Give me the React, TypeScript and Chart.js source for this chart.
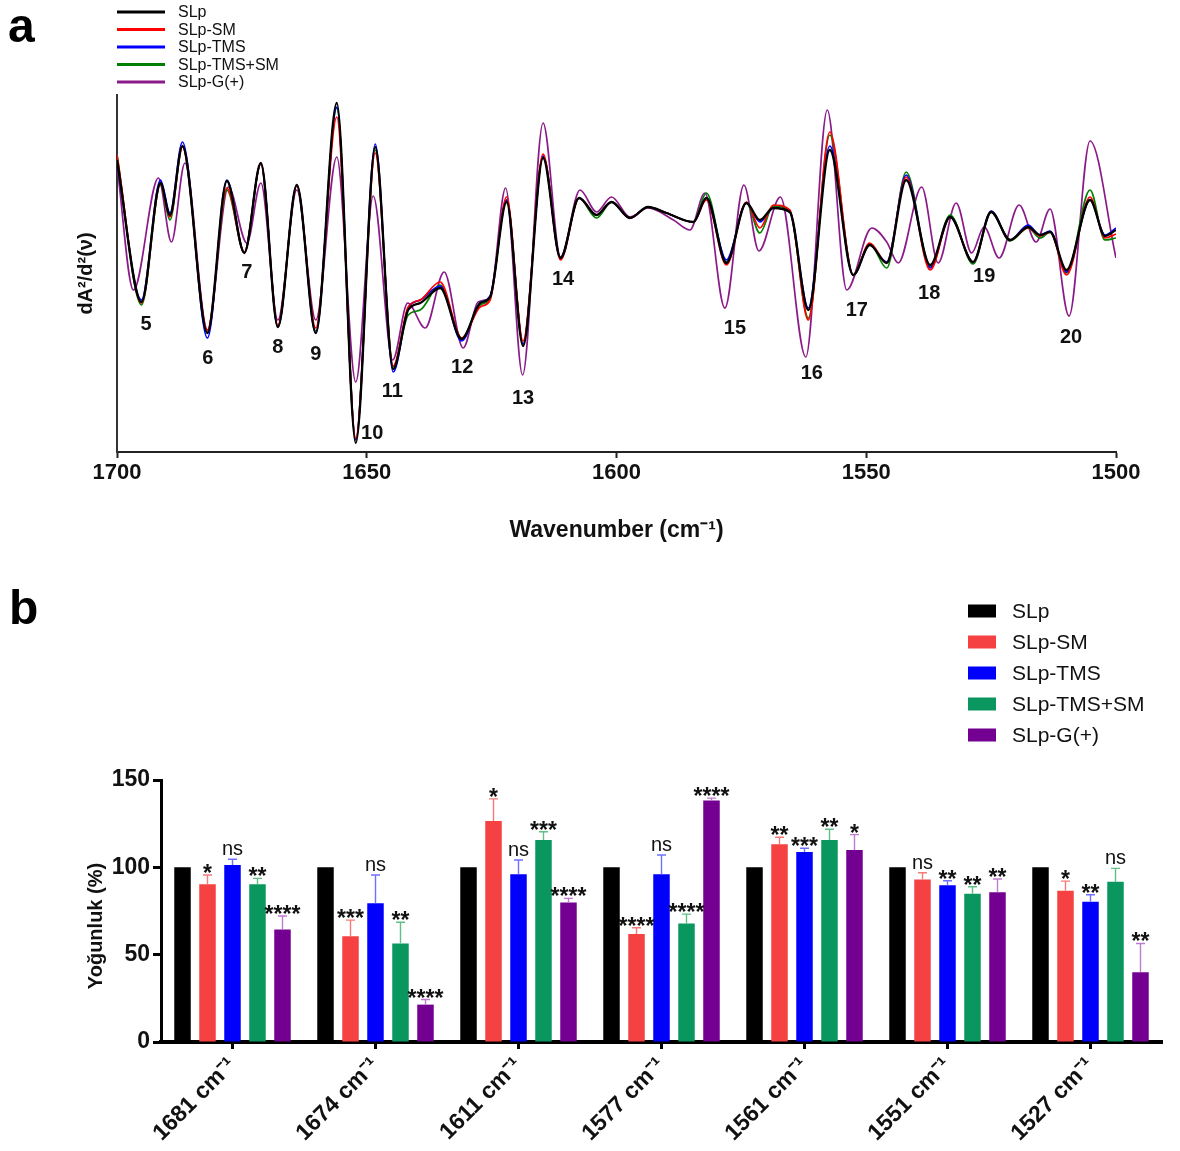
import React, { useEffect, useRef } from 'react';
import { Chart, registerables } from 'chart.js';

Chart.register(...registerables);

const FONT = "'Liberation Sans', Arial, Helvetica, sans-serif";

// ---------- Panel a: second-derivative spectra ----------
const seriesNames = ['SLp', 'SLp-SM', 'SLp-TMS', 'SLp-TMS+SM', 'SLp-G(+)'];
const lineColors = ['#000000', '#ff0000', '#0000ff', '#008000', '#8b1a89'];

const wavenumbers = [
  1700.0, 1695.1, 1691.3, 1689.4, 1686.9, 1681.9, 1678.0, 1674.5, 1671.2, 1667.8,
  1664.0, 1660.2, 1656.0, 1652.2, 1648.3, 1644.7, 1641.7, 1639.3, 1635.3, 1631.0,
  1627.3, 1625.3, 1622.0, 1618.7, 1614.7, 1611.2, 1607.5, 1604.0, 1601.0, 1597.3,
  1593.7, 1590.0, 1584.6, 1582.0, 1578.0, 1574.0, 1571.3, 1568.6, 1565.3, 1561.6,
  1557.3, 1552.6, 1549.3, 1545.9, 1542.0, 1537.2, 1533.2, 1528.6, 1525.0, 1521.2,
  1517.6, 1515.2, 1513.2, 1509.9, 1505.2, 1502.2, 1500.0,
];
const specSLp = [
  90, -52, 67, 35, 104, -83, 69, -3, 87, -77,
  65, -83, 147, -193, 103, -119, -60, -53, -38, -89,
  -53, -47, 48, -96, 92, -8, 52, 35, 48, 32,
  43, 37, 28, 52, -13, 47, 30, 42, 38, -60,
  100, -25, 5, -13, 70, -15, 33, -12, 38, 10,
  23, 15, 18, -20, 50, 14, 20,
];
const specSM = [
  95, -53, 66, 33, 103, -80, 62, -2, 86, -75,
  64, -78, 133, -188, 97, -116, -57, -50, -32, -88,
  -57, -50, 53, -91, 96, -10, 52, 35, 48, 32,
  43, 37, 28, 50, -15, 48, 22, 45, 40, -70,
  118, -25, 7, -13, 73, -20, 33, -12, 38, 10,
  22, 14, 18, -25, 53, 12, 16,
];
const specTMS = [
  88, -50, 70, 37, 108, -88, 70, -3, 87, -77,
  65, -83, 143, -190, 106, -122, -58, -50, -36, -91,
  -53, -46, 50, -94, 94, -8, 52, 35, 48, 32,
  43, 37, 28, 52, -10, 47, 28, 42, 38, -58,
  104, -25, 5, -12, 75, -18, 33, -12, 39, 10,
  25, 15, 19, -22, 50, 15, 22,
];
const specTMSSM = [
  95, -55, 65, 30, 103, -82, 60, -2, 86, -76,
  64, -81, 142, -190, 100, -117, -65, -60, -35, -88,
  -55, -48, 50, -94, 94, -8, 52, 32, 48, 32,
  43, 37, 28, 57, -12, 47, 17, 44, 39, -68,
  115, -25, 6, -18, 78, -17, 35, -14, 38, 9,
  22, 12, 18, -23, 60, 10, 12,
];
const wavenumbersG = [
  1700.0, 1696.7, 1691.7, 1689.1, 1686.4, 1681.9, 1677.7, 1674.0, 1671.2, 1667.8,
  1664.0, 1660.2, 1656.0, 1652.2, 1648.7, 1644.8, 1641.8, 1638.3, 1634.5, 1630.7,
  1627.7, 1625.3, 1622.2, 1618.8, 1614.7, 1611.2, 1607.3, 1604.0, 1601.0, 1597.3,
  1593.7, 1588.6, 1585.3, 1582.3, 1578.3, 1574.5, 1571.5, 1567.2, 1562.1, 1557.8,
  1553.9, 1548.9, 1545.9, 1543.6, 1538.9, 1535.6, 1532.0, 1528.9, 1526.4, 1523.4,
  1519.4, 1516.0, 1513.2, 1509.4, 1505.2, 1500.0,
];
const specG = [
  85, -40, 72, 8, 87, -80, 63, 7, 67, -70,
  60, -70, 93, -132, 54, -110, -53, -78, -22, -98,
  -52, -47, 62, -125, 127, -7, 60, 38, 53, 33,
  42, 30, 20, 57, -58, 65, -1, 53, -107, 140,
  -40, 22, 8, -13, 63, -13, 47, -3, 23, -8,
  45, 8, 41, -66, 109, -8,
];

const bandNumbers = ['5', '6', '7', '8', '9', '10', '11', '12', '13', '14', '15', '16', '17', '18', '19', '20'];
const bandX = [1694.2, 1681.8, 1674.0, 1667.8, 1660.2, 1648.9, 1644.9, 1630.9, 1618.7, 1610.7, 1576.3, 1560.9, 1551.9, 1537.4, 1526.4, 1509.0];
const bandY = [-74, -108, -22, -97, -104, -183, -141, -117, -148, -29, -78, -123, -60, -43, -26, -87];

const xTicksA = [1700, 1650, 1600, 1550, 1500];

// ---------- Panel b: intensity bars ----------
const categories = ['1681 cm⁻¹', '1674 cm⁻¹', '1611 cm⁻¹', '1577 cm⁻¹', '1561 cm⁻¹', '1551 cm⁻¹', '1527 cm⁻¹'];
const barColors = ['#000000', '#f54141', '#0000fb', '#0a965f', '#730091'];
const errColors = ['#000000', '#f77a7a', '#7070ff', '#5fbf85', '#c07ad0'];

const barSLp = [100, 100, 100, 100, 100, 100, 100];
const barSM = [90.3, 60.6, 126.5, 61.8, 113.2, 93.1, 86.6];
const barTMS = [101.3, 79.4, 96.0, 96.0, 108.8, 89.7, 80.3];
const barTMSSM = [90.3, 56.4, 115.7, 67.9, 115.7, 84.9, 91.7];
const barG = [64.4, 21.4, 79.9, 138.2, 109.9, 85.8, 40.0];

const sdSLp = [0, 0, 0, 0, 0, 0, 0];
const sdSM = [5.3, 9.2, 12.7, 3.6, 4.0, 3.8, 5.5];
const sdTMS = [3.3, 16.2, 8.2, 11.1, 2.1, 2.6, 4.0];
const sdTMSSM = [3.4, 12.2, 4.7, 5.3, 6.1, 4.0, 7.7];
const sdG = [7.7, 2.9, 2.3, 1.4, 8.8, 7.5, 16.4];

const sigSLp = ['', '', '', '', '', '', ''];
const sigSM = ['*', '***', '*', '****', '**', 'ns', '*'];
const sigTMS = ['ns', 'ns', 'ns', 'ns', '***', '**', '**'];
const sigTMSSM = ['**', '**', '***', '****', '**', '**', 'ns'];
const sigG = ['****', '****', '****', '****', '*', '**', '**'];

const yTicksB = [0, 50, 100, 150];

export default function App() {
  const refA = useRef<HTMLCanvasElement>(null);
  const refB = useRef<HTMLCanvasElement>(null);

  useEffect(() => {
    const specSeries = [specSLp, specSM, specTMS, specTMSSM];
    const lineDatasets: any[] = specSeries.map((vals, si) => ({
      label: seriesNames[si],
      data: wavenumbers.map((w, i) => ({ x: w, y: vals[i] })),
      borderColor: lineColors[si],
      borderWidth: si === 0 ? 2.3 : 1.7,
      pointRadius: 0,
      cubicInterpolationMode: 'monotone',
      fill: false,
    }));
    lineDatasets.push({
      label: seriesNames[4],
      data: wavenumbersG.map((w, i) => ({ x: w, y: specG[i] })),
      borderColor: lineColors[4],
      borderWidth: 1.7,
      pointRadius: 0,
      cubicInterpolationMode: 'monotone',
      fill: false,
    });

    const panelAPlugin = {
      id: 'panelA',
      afterDatasetsDraw(chart: any) {
        const { ctx } = chart;
        const xs = chart.scales.x;
        const ys = chart.scales.y;
        ctx.save();
        ctx.fillStyle = '#111';
        ctx.font = `bold 20px ${FONT}`;
        ctx.textAlign = 'center';
        ctx.textBaseline = 'middle';
        bandNumbers.forEach((t, i) => {
          ctx.fillText(t, xs.getPixelForValue(bandX[i]), ys.getPixelForValue(bandY[i]));
        });
        // legend
        ctx.font = `16px ${FONT}`;
        ctx.textAlign = 'left';
        chart.data.datasets.forEach((ds: any, i: number) => {
          const yy = 12 + i * 17.5;
          ctx.strokeStyle = ds.borderColor;
          ctx.lineWidth = 3;
          ctx.beginPath();
          ctx.moveTo(117, yy);
          ctx.lineTo(165, yy);
          ctx.stroke();
          ctx.fillStyle = '#111';
          ctx.fillText(ds.label, 178, yy + 1);
        });
        ctx.font = `bold 48px ${FONT}`;
        ctx.textBaseline = 'alphabetic';
        ctx.fillStyle = '#000';
        ctx.fillText('a', 8, 42);
        ctx.restore();
      },
    };

    const chartA = new Chart(refA.current as HTMLCanvasElement, {
      type: 'line',
      data: { datasets: lineDatasets },
      options: {
        responsive: false,
        devicePixelRatio: 1,
        animation: false,
        events: [],
        layout: { padding: { left: 0, top: 95, right: 64, bottom: 0 } },
        plugins: { legend: { display: false }, tooltip: { enabled: false } },
        scales: {
          x: {
            type: 'linear',
            min: 1500,
            max: 1700,
            reverse: true,
            afterFit: (s: any) => { s.height = 108; },
            afterBuildTicks: (s: any) => { s.ticks = xTicksA.map((v) => ({ value: v })); },
            ticks: {
              font: { family: FONT, size: 22, weight: 'bold' },
              color: '#111',
              padding: 2,
              maxRotation: 0,
              callback: (v: any) => String(v),
            },
            grid: {
              display: true,
              drawOnChartArea: false,
              drawTicks: true,
              tickLength: 6,
              tickWidth: 2,
              color: '#222',
            },
            border: { display: true, color: '#222', width: 2 },
            title: {
              display: true,
              text: 'Wavenumber (cm⁻¹)',
              font: { family: FONT, size: 23, weight: 'bold' },
              color: '#111',
              padding: { top: 0, bottom: 16 },
            },
          },
          y: {
            type: 'linear',
            min: -202,
            max: 155,
            afterFit: (s: any) => { s.width = 117; },
            ticks: { display: false },
            grid: { display: false },
            border: { display: true, color: '#333', width: 2 },
            title: {
              display: true,
              text: 'dA²/d²(ν)',
              font: { family: FONT, size: 20, weight: 'bold' },
              color: '#111',
              padding: { top: 74, bottom: 0 },
            },
          },
        },
      } as any,
      plugins: [panelAPlugin],
    });

    // ---------- Panel b ----------
    const barSeries = [barSLp, barSM, barTMS, barTMSSM, barG];
    const sdSeries = [sdSLp, sdSM, sdTMS, sdTMSSM, sdG];
    const sigSeries = [sigSLp, sigSM, sigTMS, sigTMSSM, sigG];

    const panelBPlugin = {
      id: 'panelB',
      afterDatasetsDraw(chart: any) {
        const { ctx } = chart;
        const ys = chart.scales.y;
        ctx.save();
        chart.data.datasets.forEach((ds: any, di: number) => {
          const meta = chart.getDatasetMeta(di);
          meta.data.forEach((bar: any, i: number) => {
            const val = barSeries[di][i];
            const sd = sdSeries[di][i];
            const top = ys.getPixelForValue(val + sd);
            const x = bar.x;
            if (sd > 0) {
              ctx.strokeStyle = errColors[di];
              ctx.lineWidth = 1.4;
              ctx.beginPath();
              ctx.moveTo(x, ys.getPixelForValue(val));
              ctx.lineTo(x, top);
              ctx.moveTo(x - 4.5, top);
              ctx.lineTo(x + 4.5, top);
              ctx.stroke();
            }
            const sig = sigSeries[di][i];
            if (sig) {
              ctx.fillStyle = '#111';
              ctx.textAlign = 'center';
              ctx.textBaseline = 'alphabetic';
              if (sig === 'ns') {
                ctx.font = `20px ${FONT}`;
                ctx.fillText(sig, x, top - 4);
              } else {
                ctx.font = `bold 23px ${FONT}`;
                ctx.fillText(sig, x, top + 6);
              }
            }
          });
        });
        ctx.restore();
      },
      afterDraw(chart: any) {
        const { ctx } = chart;
        ctx.save();
        // legend
        ctx.font = `21px ${FONT}`;
        ctx.textAlign = 'left';
        ctx.textBaseline = 'middle';
        chart.data.datasets.forEach((ds: any, i: number) => {
          const yy = 51 + i * 31;
          ctx.fillStyle = ds.backgroundColor;
          ctx.fillRect(968, yy - 6.5, 28, 13);
          ctx.fillStyle = '#111';
          ctx.fillText(ds.label, 1012, yy + 1);
        });
        // y title
        ctx.font = `bold 20px ${FONT}`;
        ctx.textAlign = 'center';
        ctx.translate(96, 366);
        ctx.rotate(-Math.PI / 2);
        ctx.fillText('Yoğunluk (%)', 0, 0);
        ctx.restore();
        ctx.save();
        ctx.font = `bold 48px ${FONT}`;
        ctx.fillStyle = '#000';
        ctx.textBaseline = 'alphabetic';
        ctx.fillText('b', 9, 64);
        ctx.restore();
      },
    };

    const chartB = new Chart(refB.current as HTMLCanvasElement, {
      type: 'bar',
      data: {
        labels: categories,
        datasets: barSeries.map((vals, si) => ({
          label: seriesNames[si],
          data: vals,
          backgroundColor: barColors[si],
          borderWidth: 0,
          categoryPercentage: 0.874,
          barPercentage: 0.66,
        })),
      },
      options: {
        responsive: false,
        devicePixelRatio: 1,
        animation: false,
        events: [],
        layout: { padding: { left: 0, top: 220, right: 18, bottom: 0 } },
        plugins: { legend: { display: false }, tooltip: { enabled: false } },
        scales: {
          x: {
            type: 'category',
            offset: true,
            afterFit: (s: any) => { s.height = 109; },
            ticks: {
              font: { family: FONT, size: 23, weight: 'bold' },
              color: '#111',
              minRotation: 45,
              maxRotation: 45,
              autoSkip: false,
              padding: 3,
            },
            grid: {
              display: true,
              drawOnChartArea: false,
              drawTicks: true,
              tickLength: 7,
              tickWidth: 3,
              color: '#000',
              offset: false,
            },
            border: { display: true, color: '#000', width: 4 },
          },
          y: {
            type: 'linear',
            min: 0,
            max: 150,
            afterFit: (s: any) => { s.width = 161; },
            afterBuildTicks: (s: any) => { s.ticks = yTicksB.map((v) => ({ value: v })); },
            ticks: {
              font: { family: FONT, size: 23, weight: 'bold' },
              color: '#111',
              padding: 3,
            },
            grid: {
              display: true,
              drawOnChartArea: false,
              drawTicks: true,
              tickLength: 8,
              tickWidth: 3,
              color: '#000',
            },
            border: { display: true, color: '#000', width: 3 },
          },
        },
      } as any,
      plugins: [panelBPlugin],
    });

    return () => {
      chartA.destroy();
      chartB.destroy();
    };
  }, []);

  return (
    <div style={{ position: 'absolute', left: 0, top: 0, width: 1180, height: 1151, background: '#fff' }}>
      <canvas
        ref={refA}
        width={1180}
        height={560}
        style={{ position: 'absolute', left: 0, top: 0, width: 1180, height: 560 }}
      />
      <canvas
        ref={refB}
        width={1180}
        height={591}
        style={{ position: 'absolute', left: 0, top: 560, width: 1180, height: 591 }}
      />
    </div>
  );
}
